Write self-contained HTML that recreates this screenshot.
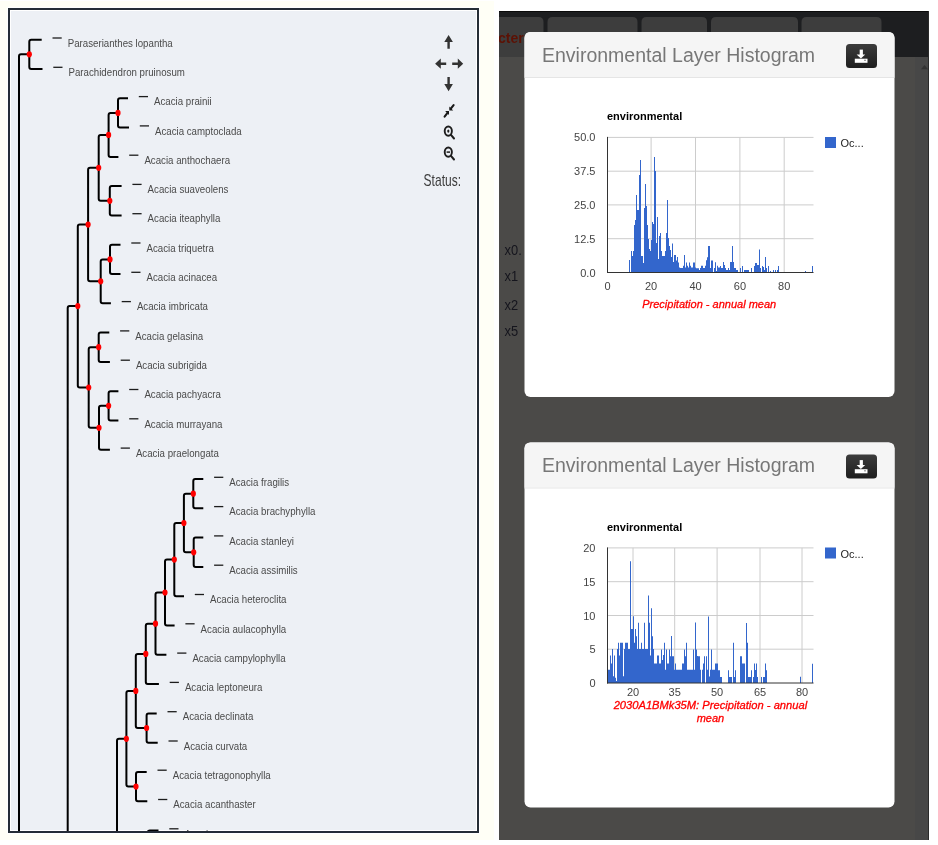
<!DOCTYPE html><html><head><meta charset="utf-8"><style>
html,body{margin:0;padding:0;background:#fff;width:938px;height:845px;overflow:hidden}
svg{display:block;font-family:"Liberation Sans",Arial,sans-serif}
.lab{font-size:11px;fill:#4a4a4a}
.ctitle{font-size:11px;font-weight:bold;fill:#000}
.grid{stroke:#cccccc;stroke-width:1}
.axis{stroke:#333;stroke-width:1}
.ylab{font-size:11px;fill:#444;text-anchor:end}
.xlab{font-size:11px;fill:#444;text-anchor:middle}
.xt{font-size:11px;font-style:italic;fill:#ff0000;stroke:#ff0000;stroke-width:0.3;text-anchor:middle}
.leg{font-size:11px;fill:#222}
.mt{font-size:19.5px;fill:#777}
.xs{font-size:14px;fill:#15151d}
</style></head><body>
<svg width="938" height="845" viewBox="0 0 938 845">
<defs><clipPath id="tc"><rect x="10" y="10" width="467" height="821"/></clipPath>
<linearGradient id="btn" x1="0" y1="0" x2="0" y2="1"><stop offset="0" stop-color="#3c3c3c"/><stop offset="1" stop-color="#1e1e1e"/></linearGradient>
<clipPath id="rc"><rect x="499" y="11" width="430" height="829"/></clipPath>
</defs>
<rect x="0" y="0" width="938" height="845" fill="#fff"/>
<rect x="0" y="1" width="494" height="839" fill="#fffff6"/>
<rect x="7" y="7" width="473" height="827" fill="#fff"/>
<rect x="8" y="8" width="471" height="825" fill="#252d36"/>
<rect x="10" y="10" width="467" height="821" fill="#fff"/>
<rect x="11" y="11" width="465" height="819" fill="#edf0f5"/>
<g clip-path="url(#tc)">
<path d="M29.3,54.3V41.7Q29.3,39.7 31.3,39.7H41.7M29.3,54.3V67.0Q29.3,69.0 31.3,69.0H42.5M118.0,112.9V100.3Q118.0,98.3 120.0,98.3H128.0M118.0,112.9V125.6Q118.0,127.6 120.0,127.6H129.0M108.6,134.9V114.9Q108.6,112.9 110.6,112.9H118.0M108.6,134.9V154.9Q108.6,156.9 110.6,156.9H118.4M109.8,200.8V188.1Q109.8,186.1 111.8,186.1H121.6M109.8,200.8V213.4Q109.8,215.4 111.8,215.4H121.6M98.7,167.8V136.9Q98.7,134.9 100.7,134.9H108.6M98.7,167.8V198.8Q98.7,200.8 100.7,200.8H109.8M110.0,259.4V246.7Q110.0,244.7 112.0,244.7H120.5M110.0,259.4V272.0Q110.0,274.0 112.0,274.0H120.5M100.7,281.3V261.4Q100.7,259.4 102.7,259.4H110.0M100.7,281.3V301.3Q100.7,303.3 102.7,303.3H110.9M88.1,224.6V169.8Q88.1,167.8 90.1,167.8H98.7M88.1,224.6V279.3Q88.1,281.3 90.1,281.3H100.7M98.7,347.2V334.6Q98.7,332.6 100.7,332.6H109.3M98.7,347.2V359.9Q98.7,361.9 100.7,361.9H109.9M108.6,405.8V393.2Q108.6,391.2 110.6,391.2H118.4M108.6,405.8V418.5Q108.6,420.5 110.6,420.5H118.4M99.0,427.8V407.8Q99.0,405.8 101.0,405.8H108.6M99.0,427.8V447.8Q99.0,449.8 101.0,449.8H109.9M88.7,387.5V349.2Q88.7,347.2 90.7,347.2H98.7M88.7,387.5V425.8Q88.7,427.8 90.7,427.8H99.0M77.8,306.1V226.6Q77.8,224.6 79.8,224.6H88.1M77.8,306.1V385.5Q77.8,387.5 79.8,387.5H88.7M193.3,493.7V481.0Q193.3,479.0 195.3,479.0H203.3M193.3,493.7V506.3Q193.3,508.3 195.3,508.3H203.3M193.7,552.3V539.6Q193.7,537.6 195.7,537.6H203.3M193.7,552.3V564.9Q193.7,566.9 195.7,566.9H203.3M183.9,523.0V495.7Q183.9,493.7 185.9,493.7H193.3M183.9,523.0V550.3Q183.9,552.3 185.9,552.3H193.7M174.3,559.6V525.0Q174.3,523.0 176.3,523.0H183.9M174.3,559.6V594.2Q174.3,596.2 176.3,596.2H184.0M165.0,592.5V561.6Q165.0,559.6 167.0,559.6H174.3M165.0,592.5V623.5Q165.0,625.5 167.0,625.5H174.6M155.5,623.7V594.5Q155.5,592.5 157.5,592.5H165.0M155.5,623.7V652.8Q155.5,654.8 157.5,654.8H166.4M145.8,653.9V625.7Q145.8,623.7 147.8,623.7H155.5M145.8,653.9V682.1Q145.8,684.1 147.8,684.1H158.9M146.6,728.0V715.4Q146.6,713.4 148.6,713.4H156.7M146.6,728.0V740.7Q146.6,742.7 148.6,742.7H157.7M135.8,690.9V655.9Q135.8,653.9 137.8,653.9H145.8M135.8,690.9V726.0Q135.8,728.0 137.8,728.0H146.6M136.0,786.6V774.0Q136.0,772.0 138.0,772.0H146.7M136.0,786.6V799.2Q136.0,801.2 138.0,801.2H147.3M126.4,738.8V692.9Q126.4,690.9 128.4,690.9H135.8M126.4,738.8V784.6Q126.4,786.6 128.4,786.6H136.0M19.0,900.0V56.3Q19.0,54.3 21.0,54.3H29.3M67.7,900.0V308.1Q67.7,306.1 69.7,306.1H77.8M117.0,900.0V740.8Q117.0,738.8 119.0,738.8H126.4M147.7,900.0V832.5Q147.7,830.5 149.7,830.5H158.5" fill="none" stroke="#000" stroke-width="2"/>
<ellipse cx="29.3" cy="54.3" rx="2.6" ry="3.1" fill="#ff0000"/>
<ellipse cx="118.0" cy="112.9" rx="2.6" ry="3.1" fill="#ff0000"/>
<ellipse cx="108.6" cy="134.9" rx="2.6" ry="3.1" fill="#ff0000"/>
<ellipse cx="109.8" cy="200.8" rx="2.6" ry="3.1" fill="#ff0000"/>
<ellipse cx="98.7" cy="167.8" rx="2.6" ry="3.1" fill="#ff0000"/>
<ellipse cx="110.0" cy="259.4" rx="2.6" ry="3.1" fill="#ff0000"/>
<ellipse cx="100.7" cy="281.3" rx="2.6" ry="3.1" fill="#ff0000"/>
<ellipse cx="88.1" cy="224.6" rx="2.6" ry="3.1" fill="#ff0000"/>
<ellipse cx="98.7" cy="347.2" rx="2.6" ry="3.1" fill="#ff0000"/>
<ellipse cx="108.6" cy="405.8" rx="2.6" ry="3.1" fill="#ff0000"/>
<ellipse cx="99.0" cy="427.8" rx="2.6" ry="3.1" fill="#ff0000"/>
<ellipse cx="88.7" cy="387.5" rx="2.6" ry="3.1" fill="#ff0000"/>
<ellipse cx="77.8" cy="306.1" rx="2.6" ry="3.1" fill="#ff0000"/>
<ellipse cx="193.3" cy="493.7" rx="2.6" ry="3.1" fill="#ff0000"/>
<ellipse cx="193.7" cy="552.3" rx="2.6" ry="3.1" fill="#ff0000"/>
<ellipse cx="183.9" cy="523.0" rx="2.6" ry="3.1" fill="#ff0000"/>
<ellipse cx="174.3" cy="559.6" rx="2.6" ry="3.1" fill="#ff0000"/>
<ellipse cx="165.0" cy="592.5" rx="2.6" ry="3.1" fill="#ff0000"/>
<ellipse cx="155.5" cy="623.7" rx="2.6" ry="3.1" fill="#ff0000"/>
<ellipse cx="145.8" cy="653.9" rx="2.6" ry="3.1" fill="#ff0000"/>
<ellipse cx="146.6" cy="728.0" rx="2.6" ry="3.1" fill="#ff0000"/>
<ellipse cx="135.8" cy="690.9" rx="2.6" ry="3.1" fill="#ff0000"/>
<ellipse cx="136.0" cy="786.6" rx="2.6" ry="3.1" fill="#ff0000"/>
<ellipse cx="126.4" cy="738.8" rx="2.6" ry="3.1" fill="#ff0000"/>
<line x1="52.5" y1="38.0" x2="61.7" y2="38.0" stroke="#1c1c1c" stroke-width="1.3"/>
<text class="lab" transform="translate(67.7,46.7) scale(0.882,1)">Paraserianthes lopantha</text>
<line x1="53.3" y1="67.3" x2="62.5" y2="67.3" stroke="#1c1c1c" stroke-width="1.3"/>
<text class="lab" transform="translate(68.5,76.0) scale(0.882,1)">Parachidendron pruinosum</text>
<line x1="138.8" y1="96.6" x2="148.0" y2="96.6" stroke="#1c1c1c" stroke-width="1.3"/>
<text class="lab" transform="translate(154.0,105.3) scale(0.882,1)">Acacia prainii</text>
<line x1="139.8" y1="125.9" x2="149.0" y2="125.9" stroke="#1c1c1c" stroke-width="1.3"/>
<text class="lab" transform="translate(155.0,134.6) scale(0.882,1)">Acacia camptoclada</text>
<line x1="129.2" y1="155.2" x2="138.4" y2="155.2" stroke="#1c1c1c" stroke-width="1.3"/>
<text class="lab" transform="translate(144.4,163.9) scale(0.882,1)">Acacia anthochaera</text>
<line x1="132.4" y1="184.4" x2="141.6" y2="184.4" stroke="#1c1c1c" stroke-width="1.3"/>
<text class="lab" transform="translate(147.6,193.1) scale(0.882,1)">Acacia suaveolens</text>
<line x1="132.4" y1="213.7" x2="141.6" y2="213.7" stroke="#1c1c1c" stroke-width="1.3"/>
<text class="lab" transform="translate(147.6,222.4) scale(0.882,1)">Acacia iteaphylla</text>
<line x1="131.3" y1="243.0" x2="140.5" y2="243.0" stroke="#1c1c1c" stroke-width="1.3"/>
<text class="lab" transform="translate(146.5,251.7) scale(0.882,1)">Acacia triquetra</text>
<line x1="131.3" y1="272.3" x2="140.5" y2="272.3" stroke="#1c1c1c" stroke-width="1.3"/>
<text class="lab" transform="translate(146.5,281.0) scale(0.882,1)">Acacia acinacea</text>
<line x1="121.7" y1="301.6" x2="130.9" y2="301.6" stroke="#1c1c1c" stroke-width="1.3"/>
<text class="lab" transform="translate(136.9,310.3) scale(0.882,1)">Acacia imbricata</text>
<line x1="120.1" y1="330.9" x2="129.3" y2="330.9" stroke="#1c1c1c" stroke-width="1.3"/>
<text class="lab" transform="translate(135.3,339.6) scale(0.882,1)">Acacia gelasina</text>
<line x1="120.7" y1="360.2" x2="129.9" y2="360.2" stroke="#1c1c1c" stroke-width="1.3"/>
<text class="lab" transform="translate(135.9,368.9) scale(0.882,1)">Acacia subrigida</text>
<line x1="129.2" y1="389.5" x2="138.4" y2="389.5" stroke="#1c1c1c" stroke-width="1.3"/>
<text class="lab" transform="translate(144.4,398.2) scale(0.882,1)">Acacia pachyacra</text>
<line x1="129.2" y1="418.8" x2="138.4" y2="418.8" stroke="#1c1c1c" stroke-width="1.3"/>
<text class="lab" transform="translate(144.4,427.5) scale(0.882,1)">Acacia murrayana</text>
<line x1="120.7" y1="448.1" x2="129.9" y2="448.1" stroke="#1c1c1c" stroke-width="1.3"/>
<text class="lab" transform="translate(135.9,456.8) scale(0.882,1)">Acacia praelongata</text>
<line x1="214.1" y1="477.3" x2="223.3" y2="477.3" stroke="#1c1c1c" stroke-width="1.3"/>
<text class="lab" transform="translate(229.3,486.0) scale(0.882,1)">Acacia fragilis</text>
<line x1="214.1" y1="506.6" x2="223.3" y2="506.6" stroke="#1c1c1c" stroke-width="1.3"/>
<text class="lab" transform="translate(229.3,515.3) scale(0.882,1)">Acacia brachyphylla</text>
<line x1="214.1" y1="535.9" x2="223.3" y2="535.9" stroke="#1c1c1c" stroke-width="1.3"/>
<text class="lab" transform="translate(229.3,544.6) scale(0.882,1)">Acacia stanleyi</text>
<line x1="214.1" y1="565.2" x2="223.3" y2="565.2" stroke="#1c1c1c" stroke-width="1.3"/>
<text class="lab" transform="translate(229.3,573.9) scale(0.882,1)">Acacia assimilis</text>
<line x1="194.8" y1="594.5" x2="204.0" y2="594.5" stroke="#1c1c1c" stroke-width="1.3"/>
<text class="lab" transform="translate(210.0,603.2) scale(0.882,1)">Acacia heteroclita</text>
<line x1="185.4" y1="623.8" x2="194.6" y2="623.8" stroke="#1c1c1c" stroke-width="1.3"/>
<text class="lab" transform="translate(200.6,632.5) scale(0.882,1)">Acacia aulacophylla</text>
<line x1="177.2" y1="653.1" x2="186.4" y2="653.1" stroke="#1c1c1c" stroke-width="1.3"/>
<text class="lab" transform="translate(192.4,661.8) scale(0.882,1)">Acacia campylophylla</text>
<line x1="169.7" y1="682.4" x2="178.9" y2="682.4" stroke="#1c1c1c" stroke-width="1.3"/>
<text class="lab" transform="translate(184.9,691.1) scale(0.882,1)">Acacia leptoneura</text>
<line x1="167.5" y1="711.7" x2="176.7" y2="711.7" stroke="#1c1c1c" stroke-width="1.3"/>
<text class="lab" transform="translate(182.7,720.4) scale(0.882,1)">Acacia declinata</text>
<line x1="168.5" y1="741.0" x2="177.7" y2="741.0" stroke="#1c1c1c" stroke-width="1.3"/>
<text class="lab" transform="translate(183.7,749.7) scale(0.882,1)">Acacia curvata</text>
<line x1="157.5" y1="770.2" x2="166.7" y2="770.2" stroke="#1c1c1c" stroke-width="1.3"/>
<text class="lab" transform="translate(172.7,779.0) scale(0.882,1)">Acacia tetragonophylla</text>
<line x1="158.1" y1="799.5" x2="167.3" y2="799.5" stroke="#1c1c1c" stroke-width="1.3"/>
<text class="lab" transform="translate(173.3,808.2) scale(0.882,1)">Acacia acanthaster</text>
<line x1="169.3" y1="828.8" x2="178.5" y2="828.8" stroke="#1c1c1c" stroke-width="1.3"/>
<text class="lab" transform="translate(184.5,837.5) scale(0.882,1)">Acacia aneura</text>
</g>
<g fill="#333" stroke="none">
<path d="M448.6,35 L452.9,42 H449.8 V48.8 H447.4 V42 H444.3 Z"/>
<path d="M435.1,63.7 L440.8,58.6 V62.4 H446.2 V65 H440.8 V68.8 Z"/>
<path d="M463.2,63.7 L457.8,58.6 V62.4 H452.2 V65 H457.8 V68.8 Z"/>
<path d="M448.6,91.2 L452.9,84 H449.8 V76.9 H447.4 V84 H444.3 Z"/>
</g>
<g fill="#1a1a1a"><path d="M449.3,110.6 L449.3,106.5 L453.2,110.6 z"/><path d="M449,111 L445.1,111 L449,115 z"/></g>
<g stroke="#1a1a1a" stroke-width="2.1" stroke-linecap="round"><line x1="450.8" y1="108.6" x2="453.6" y2="105.1"/><line x1="447.3" y1="113.1" x2="444.6" y2="116.7"/></g>
<ellipse cx="448.3" cy="131.1" rx="3.6" ry="4.6" fill="none" stroke="#1e1e1e" stroke-width="1.9"/>
<line x1="451.2" y1="135.1" x2="454" y2="138.5" stroke="#1e1e1e" stroke-width="2" stroke-linecap="round"/>
<ellipse cx="448.3" cy="131.1" rx="1.1" ry="1.6" fill="#1e1e1e"/>
<ellipse cx="448.3" cy="152.1" rx="3.6" ry="4.6" fill="none" stroke="#1e1e1e" stroke-width="1.9"/>
<line x1="451.2" y1="156.1" x2="454" y2="159.5" stroke="#1e1e1e" stroke-width="2" stroke-linecap="round"/>
<rect x="446.6" y="151.35" width="3.4" height="1.5" fill="#1e1e1e"/>
<text x="0" y="0" font-size="16" fill="#3c3c3c" transform="translate(423.6,185.7) scale(0.752,1)">Status:</text>
<g clip-path="url(#rc)">
<rect x="499" y="11" width="430" height="829" fill="#4b4a48"/>
<rect x="499" y="11" width="430" height="46" fill="#1d1e20"/>
<rect x="499" y="11" width="430" height="1" fill="#0a0a0a"/>
<path d="M480,57 V22 Q480,17 485,17 H538.5 Q543.5,17 543.5,22 V57 z" fill="#3d3d3d"/>
<path d="M547.5,57 V22 Q547.5,17 552.5,17 H632.5 Q637.5,17 637.5,22 V57 z" fill="#3d3d3d"/>
<path d="M641.5,57 V22 Q641.5,17 646.5,17 H702 Q707,17 707,22 V57 z" fill="#3d3d3d"/>
<path d="M711,57 V22 Q711,17 716,17 H793 Q798,17 798,22 V57 z" fill="#3d3d3d"/>
<path d="M801.5,57 V22 Q801.5,17 806.5,17 H876.5 Q881.5,17 881.5,22 V57 z" fill="#3d3d3d"/>
<rect x="915" y="57" width="14" height="783" fill="#474747"/>
<path d="M921,69.3 L924.5,65 L928,69.3 z" fill="#333"/>
<rect x="928" y="11" width="1" height="829" fill="#2a2a2a"/>
<text x="531.5" y="43" font-size="14" font-weight="bold" fill="#5c1104" text-anchor="end">Characters</text>
</g>
<text x="0" y="0" class="xs" transform="translate(504.6,254.5) scale(0.92,1)">x0.</text>
<text x="0" y="0" class="xs" transform="translate(504.6,281.3) scale(0.92,1)">x1</text>
<text x="0" y="0" class="xs" transform="translate(504.6,309.59999999999997) scale(0.92,1)">x2</text>
<text x="0" y="0" class="xs" transform="translate(504.6,336.3) scale(0.92,1)">x5</text>
<rect x="524.5" y="32" width="370" height="365" rx="6" fill="#fff"/>
<path d="M524.5,77 V38 Q524.5,32 530.5,32 H888.5 Q894.5,32 894.5,38 V77 z" fill="#f5f5f5"/>
<rect x="524.5" y="77" width="370" height="1" fill="#e5e5e5"/>
<text x="542" y="61.5" class="mt">Environmental Layer Histogram</text>
<rect x="846" y="44" width="31" height="24" rx="3.5" fill="url(#btn)"/>
<rect x="859.7" y="49.6" width="3.2" height="6" fill="#fff"/>
<path d="M856.6,54.6 H865.2 L860.9,58.6 z" fill="#fff"/>
<rect x="854.8" y="58.7" width="12.7" height="4.1" fill="#fff"/>
<rect x="864.3" y="59.7" width="1.4" height="1.2" fill="#666"/>
<text x="607" y="120" class="ctitle">environmental</text>
<line x1="607.5" y1="137.4" x2="813.5" y2="137.4" class="grid"/>
<line x1="607.5" y1="171.2" x2="813.5" y2="171.2" class="grid"/>
<line x1="607.5" y1="204.9" x2="813.5" y2="204.9" class="grid"/>
<line x1="607.5" y1="238.7" x2="813.5" y2="238.7" class="grid"/>
<line x1="651.1" y1="137.4" x2="651.1" y2="272.5" class="grid"/>
<line x1="695.5" y1="137.4" x2="695.5" y2="272.5" class="grid"/>
<line x1="739.9" y1="137.4" x2="739.9" y2="272.5" class="grid"/>
<line x1="784.2" y1="137.4" x2="784.2" y2="272.5" class="grid"/>
<path d="M629,272.5V260.0h1V272.5zM631,272.5V251.0h1V272.5zM632,272.5V256.0h1V272.5zM633,272.5V251.0h1V272.5zM634,272.5V225.0h1V272.5zM635,272.5V220.0h1V272.5zM636,272.5V195.0h1V272.5zM637,272.5V210.0h1V272.5zM638,272.5V210.0h1V272.5zM639,272.5V175.0h1V272.5zM640,272.5V160.0h1V272.5zM641,272.5V256.0h1V272.5zM642,272.5V256.0h1V272.5zM643,272.5V263.0h1V272.5zM644,272.5V208.0h1V272.5zM645,272.5V184.0h1V272.5zM646,272.5V206.0h1V272.5zM647,272.5V225.0h1V272.5zM648,272.5V239.0h1V272.5zM649,272.5V249.0h1V272.5zM650,272.5V251.0h1V272.5zM651,272.5V240.0h1V272.5zM652,272.5V222.0h1V272.5zM653,272.5V224.0h1V272.5zM654,272.5V157.0h1V272.5zM655,272.5V171.0h1V272.5zM656,272.5V243.0h1V272.5zM657,272.5V217.0h1V272.5zM658,272.5V259.0h1V272.5zM659,272.5V236.0h1V272.5zM660,272.5V233.0h1V272.5zM661,272.5V251.0h1V272.5zM662,272.5V256.0h1V272.5zM663,272.5V256.0h1V272.5zM664,272.5V256.0h1V272.5zM665,272.5V251.0h1V272.5zM666,272.5V233.0h1V272.5zM667,272.5V200.0h1V272.5zM668,272.5V238.0h1V272.5zM669,272.5V246.0h1V272.5zM670,272.5V250.0h1V272.5zM671,272.5V257.0h1V272.5zM672,272.5V243.6h1V272.5zM673,272.5V262.0h1V272.5zM674,272.5V255.0h1V272.5zM675,272.5V255.0h1V272.5zM676,272.5V260.5h1V272.5zM677,272.5V257.0h1V272.5zM678,272.5V262.6h1V272.5zM679,272.5V267.6h1V272.5zM680,272.5V268.0h1V272.5zM681,272.5V268.0h1V272.5zM682,272.5V268.0h1V272.5zM683,272.5V265.8h1V272.5zM684,272.5V255.0h1V272.5zM685,272.5V267.6h1V272.5zM686,272.5V262.6h1V272.5zM687,272.5V265.8h1V272.5zM688,272.5V267.6h1V272.5zM689,272.5V262.6h1V272.5zM690,272.5V265.8h1V272.5zM691,272.5V267.6h1V272.5zM692,272.5V267.6h1V272.5zM693,272.5V262.6h1V272.5zM694,272.5V262.6h1V272.5zM695,272.5V267.6h1V272.5zM696,272.5V268.2h1V272.5zM697,272.5V268.2h1V272.5zM698,272.5V268.2h1V272.5zM699,272.5V270.0h1V272.5zM700,272.5V268.0h1V272.5zM701,272.5V265.8h1V272.5zM702,272.5V265.8h1V272.5zM703,272.5V268.0h1V272.5zM704,272.5V268.0h1V272.5zM705,272.5V265.8h1V272.5zM706,272.5V260.2h1V272.5zM707,272.5V257.2h1V272.5zM708,272.5V246.0h1V272.5zM709,272.5V246.0h1V272.5zM710,272.5V268.0h1V272.5zM711,272.5V260.5h1V272.5zM712,272.5V260.5h1V272.5zM714,272.5V268.0h1V272.5zM715,272.5V262.3h1V272.5zM716,272.5V271.0h1V272.5zM717,272.5V265.8h1V272.5zM718,272.5V267.6h1V272.5zM719,272.5V267.6h1V272.5zM720,272.5V266.0h1V272.5zM721,272.5V268.0h1V272.5zM722,272.5V268.0h1V272.5zM723,272.5V262.0h1V272.5zM724,272.5V265.0h1V272.5zM725,272.5V268.0h1V272.5zM726,272.5V270.0h1V272.5zM727,272.5V270.0h1V272.5zM728,272.5V268.0h1V272.5zM729,272.5V270.0h1V272.5zM730,272.5V262.0h1V272.5zM731,272.5V262.0h1V272.5zM732,272.5V246.0h1V272.5zM733,272.5V262.0h1V272.5zM734,272.5V268.0h1V272.5zM735,272.5V268.0h1V272.5zM736,272.5V270.0h1V272.5zM737,272.5V270.0h1V272.5zM740,272.5V268.0h1V272.5zM742,272.5V266.0h1V272.5zM744,272.5V270.0h1V272.5zM745,272.5V270.0h1V272.5zM746,272.5V270.0h1V272.5zM747,272.5V270.0h1V272.5zM748,272.5V270.0h1V272.5zM751,272.5V268.0h1V272.5zM754,272.5V266.0h1V272.5zM755,272.5V263.0h1V272.5zM756,272.5V263.0h1V272.5zM757,272.5V265.0h1V272.5zM758,272.5V265.0h1V272.5zM759,272.5V249.5h1V272.5zM760,272.5V268.0h1V272.5zM762,272.5V266.0h1V272.5zM763,272.5V267.0h1V272.5zM764,272.5V270.0h1V272.5zM765,272.5V257.0h1V272.5zM766,272.5V268.0h1V272.5zM768,272.5V266.0h1V272.5zM770,272.5V271.0h1V272.5zM773,272.5V270.0h1V272.5zM775,272.5V270.0h1V272.5zM777,272.5V270.0h1V272.5zM778,272.5V266.0h1V272.5zM805,272.5V271.0h1V272.5zM812,272.5V266.0h1V272.5z" fill="#3366cc"/>
<line x1="607.5" y1="136.9" x2="607.5" y2="273.0" class="axis"/>
<line x1="607.0" y1="272.5" x2="813.5" y2="272.5" class="axis"/>
<text x="595.5" y="141.4" class="ylab">50.0</text>
<text x="595.5" y="175.2" class="ylab">37.5</text>
<text x="595.5" y="208.9" class="ylab">25.0</text>
<text x="595.5" y="242.7" class="ylab">12.5</text>
<text x="595.5" y="276.5" class="ylab">0.0</text>
<text x="607.5" y="290" class="xlab">0</text>
<text x="651.1" y="290" class="xlab">20</text>
<text x="695.5" y="290" class="xlab">40</text>
<text x="739.9" y="290" class="xlab">60</text>
<text x="784.2" y="290" class="xlab">80</text>
<text x="709.2" y="308.0" class="xt">Precipitation - annual mean</text>
<rect x="825" y="137" width="11" height="11" fill="#3366cc"/>
<text x="840.5" y="147" class="leg">Oc...</text>
<rect x="524.5" y="442.5" width="370" height="365" rx="6" fill="#fff"/>
<path d="M524.5,487.5 V448.5 Q524.5,442.5 530.5,442.5 H888.5 Q894.5,442.5 894.5,448.5 V487.5 z" fill="#f5f5f5"/>
<rect x="524.5" y="487.5" width="370" height="1" fill="#e5e5e5"/>
<text x="542" y="472.0" class="mt">Environmental Layer Histogram</text>
<rect x="846" y="454.5" width="31" height="24" rx="3.5" fill="url(#btn)"/>
<rect x="859.7" y="460.1" width="3.2" height="6" fill="#fff"/>
<path d="M856.6,465.1 H865.2 L860.9,469.1 z" fill="#fff"/>
<rect x="854.8" y="469.2" width="12.7" height="4.1" fill="#fff"/>
<rect x="864.3" y="470.2" width="1.4" height="1.2" fill="#666"/>
<text x="607" y="530.5" class="ctitle">environmental</text>
<line x1="607.5" y1="547.9" x2="813.5" y2="547.9" class="grid"/>
<line x1="607.5" y1="581.7" x2="813.5" y2="581.7" class="grid"/>
<line x1="607.5" y1="615.5" x2="813.5" y2="615.5" class="grid"/>
<line x1="607.5" y1="649.2" x2="813.5" y2="649.2" class="grid"/>
<line x1="633" y1="547.9" x2="633" y2="683.0" class="grid"/>
<line x1="674.7" y1="547.9" x2="674.7" y2="683.0" class="grid"/>
<line x1="717.1" y1="547.9" x2="717.1" y2="683.0" class="grid"/>
<line x1="760" y1="547.9" x2="760" y2="683.0" class="grid"/>
<line x1="802" y1="547.9" x2="802" y2="683.0" class="grid"/>
<path d="M608,683V669.8h1V683zM609,683V669.8h1V683zM610,683V655.4h1V683zM611,683V663.4h1V683zM612,683V649.0h1V683zM613,683V676.2h1V683zM614,683V655.4h1V683zM615,683V677.8h1V683zM616,683V681.0h1V683zM617,683V649.0h1V683zM618,683V642.7h1V683zM619,683V655.4h1V683zM620,683V642.7h1V683zM621,683V642.7h1V683zM622,683V642.7h1V683zM623,683V676.2h1V683zM624,683V649.0h1V683zM625,683V642.7h1V683zM626,683V642.7h1V683zM627,683V642.7h1V683zM628,683V649.0h1V683zM629,683V649.0h1V683zM630,683V561.2h1V683zM631,683V629.0h1V683zM632,683V629.0h1V683zM633,683V616.3h1V683zM634,683V642.7h1V683zM635,683V629.0h1V683zM636,683V636.3h1V683zM637,683V649.0h1V683zM638,683V622.7h1V683zM639,683V649.0h1V683zM640,683V649.0h1V683zM641,683V642.7h1V683zM642,683V649.0h1V683zM643,683V649.0h1V683zM644,683V622.7h1V683zM645,683V649.0h1V683zM646,683V649.0h1V683zM647,683V649.0h1V683zM648,683V595.5h1V683zM649,683V622.7h1V683zM650,683V655.4h1V683zM651,683V608.3h1V683zM652,683V636.3h1V683zM653,683V649.0h1V683zM654,683V663.4h1V683zM655,683V663.4h1V683zM656,683V663.4h1V683zM657,683V655.4h1V683zM658,683V655.4h1V683zM659,683V663.4h1V683zM660,683V663.5h1V683zM661,683V649.5h1V683zM662,683V660.0h1V683zM663,683V655.0h1V683zM664,683V642.8h1V683zM665,683V669.8h1V683zM666,683V649.6h1V683zM667,683V663.6h1V683zM668,683V663.6h1V683zM669,683V649.6h1V683zM670,683V656.3h1V683zM671,683V636.0h1V683zM672,683V656.3h1V683zM673,683V656.3h1V683zM674,683V669.8h1V683zM675,683V663.6h1V683zM676,683V669.8h1V683zM677,683V669.8h1V683zM678,683V669.8h1V683zM679,683V669.8h1V683zM680,683V669.8h1V683zM681,683V669.8h1V683zM682,683V663.6h1V683zM683,683V663.6h1V683zM684,683V649.6h1V683zM685,683V656.3h1V683zM686,683V642.8h1V683zM687,683V669.8h1V683zM688,683V669.8h1V683zM689,683V669.8h1V683zM690,683V669.8h1V683zM691,683V669.8h1V683zM692,683V669.8h1V683zM693,683V649.6h1V683zM694,683V669.8h1V683zM695,683V622.6h1V683zM696,683V649.6h1V683zM697,683V656.0h1V683zM698,683V656.3h1V683zM699,683V656.3h1V683zM700,683V669.8h1V683zM702,683V669.8h1V683zM703,683V663.6h1V683zM704,683V656.3h1V683zM706,683V656.3h1V683zM707,683V669.8h1V683zM708,683V616.4h1V683zM709,683V676.5h1V683zM710,683V669.8h1V683zM711,683V649.6h1V683zM712,683V669.8h1V683zM713,683V669.8h1V683zM714,683V669.8h1V683zM715,683V663.6h1V683zM716,683V663.6h1V683zM717,683V663.6h1V683zM718,683V670.3h1V683zM719,683V670.3h1V683zM720,683V677.0h1V683zM721,683V677.0h1V683zM728,683V670.3h1V683zM729,683V677.0h1V683zM730,683V677.0h1V683zM731,683V677.0h1V683zM733,683V642.8h1V683zM734,683V677.0h1V683zM735,683V670.3h1V683zM740,683V656.3h1V683zM741,683V656.3h1V683zM742,683V663.6h1V683zM743,683V663.6h1V683zM744,683V663.6h1V683zM746,683V623.1h1V683zM747,683V642.8h1V683zM748,683V677.0h1V683zM749,683V677.0h1V683zM750,683V677.0h1V683zM751,683V670.3h1V683zM753,683V677.0h1V683zM754,683V663.6h1V683zM755,683V670.0h1V683zM756,683V663.6h1V683zM757,683V677.0h1V683zM761,683V677.0h1V683zM763,683V677.0h1V683zM764,683V677.0h1V683zM765,683V663.6h1V683zM766,683V670.3h1V683zM800,683V676.8h1V683zM812,683V663.8h1V683z" fill="#3366cc"/>
<line x1="607.5" y1="547.4" x2="607.5" y2="683.5" class="axis"/>
<line x1="607.0" y1="683.0" x2="813.5" y2="683.0" class="axis"/>
<text x="595.5" y="551.9" class="ylab">20</text>
<text x="595.5" y="585.7" class="ylab">15</text>
<text x="595.5" y="619.5" class="ylab">10</text>
<text x="595.5" y="653.2" class="ylab">5</text>
<text x="595.5" y="687.0" class="ylab">0</text>
<text x="633" y="695.8" class="xlab">20</text>
<text x="674.7" y="695.8" class="xlab">35</text>
<text x="717.1" y="695.8" class="xlab">50</text>
<text x="760" y="695.8" class="xlab">65</text>
<text x="802" y="695.8" class="xlab">80</text>
<text x="710.4" y="709.2" class="xt" textLength="193.5" lengthAdjust="spacingAndGlyphs">2030A1BMk35M: Precipitation - annual</text>
<text x="710.4" y="721.7" class="xt">mean</text>
<rect x="825" y="547.5" width="11" height="11" fill="#3366cc"/>
<text x="840.5" y="557.5" class="leg">Oc...</text>
</svg></body></html>
